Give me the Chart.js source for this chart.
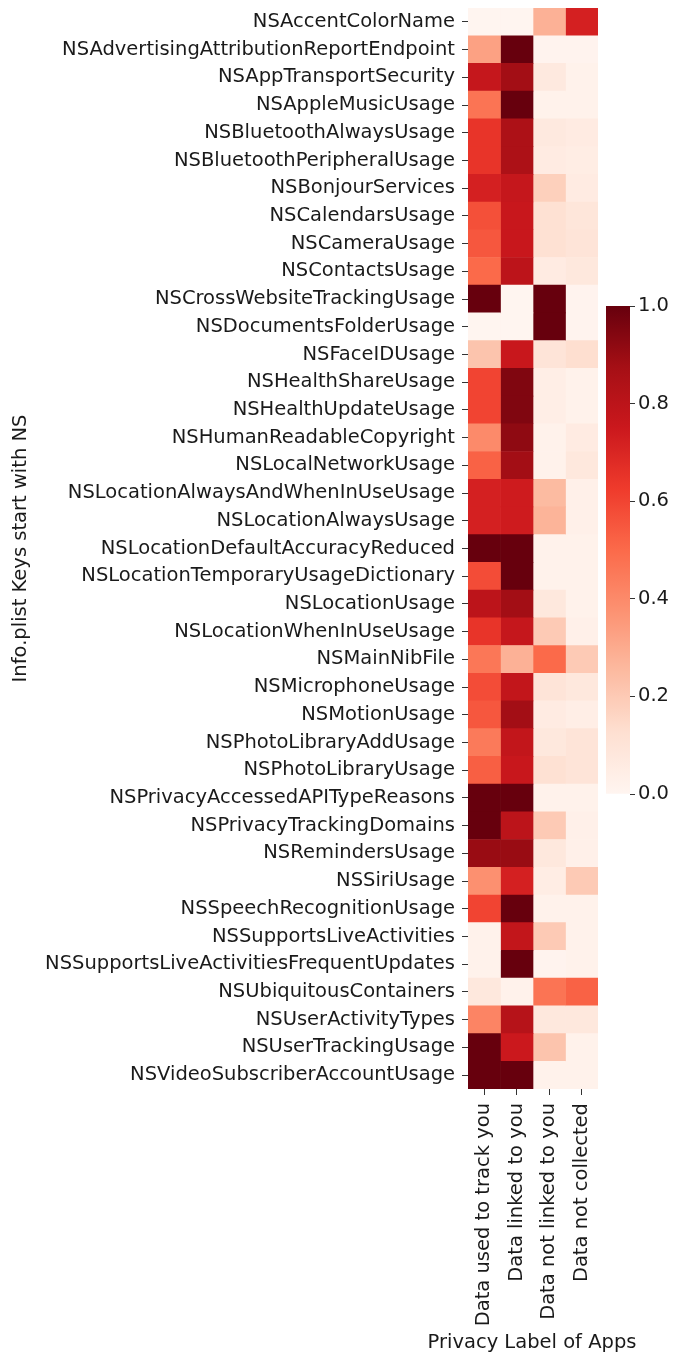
<!DOCTYPE html>
<html>
<head>
<meta charset="utf-8">
<script src="https://cdn.jsdelivr.net/npm/chart.js@4.4.1/dist/chart.umd.min.js"></script>
<style>
  html, body { margin: 0; padding: 0; background: #fff; overflow: hidden; }
  #wrap { position: relative; width: 678px; height: 1357px; overflow: hidden; }
  #main { position: absolute; left: 0; top: 0; }
  #cbar { position: absolute; left: 596px; top: 296px; }
</style>
</head>
<body>
<div id="wrap">
  <canvas id="main" width="1064" height="1357"></canvas>
  <canvas id="cbar" width="82" height="520"></canvas>
</div>
<script>
const rowLabels = [
  'NSAccentColorName','NSAdvertisingAttributionReportEndpoint','NSAppTransportSecurity','NSAppleMusicUsage',
  'NSBluetoothAlwaysUsage','NSBluetoothPeripheralUsage','NSBonjourServices','NSCalendarsUsage','NSCameraUsage',
  'NSContactsUsage','NSCrossWebsiteTrackingUsage','NSDocumentsFolderUsage','NSFaceIDUsage','NSHealthShareUsage',
  'NSHealthUpdateUsage','NSHumanReadableCopyright','NSLocalNetworkUsage','NSLocationAlwaysAndWhenInUseUsage',
  'NSLocationAlwaysUsage','NSLocationDefaultAccuracyReduced','NSLocationTemporaryUsageDictionary','NSLocationUsage',
  'NSLocationWhenInUseUsage','NSMainNibFile','NSMicrophoneUsage','NSMotionUsage','NSPhotoLibraryAddUsage',
  'NSPhotoLibraryUsage','NSPrivacyAccessedAPITypeReasons','NSPrivacyTrackingDomains','NSRemindersUsage','NSSiriUsage',
  'NSSpeechRecognitionUsage','NSSupportsLiveActivities','NSSupportsLiveActivitiesFrequentUpdates','NSUbiquitousContainers',
  'NSUserActivityTypes','NSUserTrackingUsage','NSVideoSubscriberAccountUsage'
];
const colLabels = ['Data used to track you','Data linked to you','Data not linked to you','Data not collected'];

const trackYou = [0.00,0.33,0.77,0.47,0.65,0.65,0.72,0.57,0.55,0.50,1.00,0.00,0.22,0.60,0.60,0.40,0.52,0.72,0.72,1.00,
                  0.58,0.80,0.65,0.46,0.58,0.55,0.45,0.53,1.00,1.00,0.90,0.38,0.60,0.02,0.02,0.08,0.42,1.00,1.00];
const linkedYou = [0.00,1.00,0.88,1.00,0.85,0.85,0.77,0.76,0.76,0.80,0.00,0.00,0.76,0.95,0.95,0.92,0.88,0.74,0.74,1.00,
                   1.00,0.88,0.77,0.28,0.78,0.88,0.78,0.76,1.00,0.80,0.90,0.72,1.00,0.78,1.00,0.02,0.82,0.75,1.00];
const notLinkedYou = [0.28,0.01,0.07,0.02,0.07,0.06,0.18,0.12,0.12,0.06,1.00,1.00,0.10,0.04,0.04,0.02,0.02,0.25,0.27,0.02,
                      0.02,0.08,0.20,0.50,0.10,0.06,0.08,0.12,0.02,0.20,0.08,0.05,0.02,0.20,0.01,0.47,0.08,0.22,0.02];
const notCollected = [0.72,0.01,0.02,0.02,0.06,0.05,0.06,0.09,0.10,0.08,0.01,0.01,0.13,0.02,0.02,0.06,0.08,0.03,0.03,0.02,
                      0.02,0.02,0.03,0.20,0.08,0.04,0.10,0.10,0.02,0.03,0.03,0.20,0.02,0.02,0.02,0.52,0.08,0.02,0.02];
const columns = [trackYou, linkedYou, notLinkedYou, notCollected];
const cbTicks = [0, 0.2, 0.4, 0.6, 0.8, 1.0];

// matplotlib "Reds" colormap anchors
const REDS = ['#fff5f0','#fee0d2','#fcbba1','#fc9272','#fb6a4a','#ef3b2c','#cb181d','#a50f15','#67000d'];
function hex(h){return [parseInt(h.slice(1,3),16),parseInt(h.slice(3,5),16),parseInt(h.slice(5,7),16)];}
function reds(v){
  v = Math.max(0, Math.min(1, v));
  const p = v * (REDS.length - 1);
  const i = Math.min(REDS.length - 2, Math.floor(p));
  const t = p - i;
  const a = hex(REDS[i]), b = hex(REDS[i+1]);
  const c = a.map((x,k)=>Math.round(x + (b[k]-x)*t));
  return `rgb(${c[0]},${c[1]},${c[2]})`;
}

const font = () => ({ family: 'DejaVu Sans', size: 19.5, lineHeight: 1.2, weight: 'normal' });
const TXT = '#1a1a1a';
const PLOT_BOTTOM = 1089;
const PLOT_RIGHT = 598;
const CANVAS_W = 1064;
const TITLE_BOX = 19.5 * 1.2 + 4 + 2;

const datasets = columns.map((vals, j) => ({
  label: colLabels[j],
  data: vals.map(() => 1),
  backgroundColor: vals.map(reds),
  borderWidth: 0,
  barPercentage: 1,
  categoryPercentage: 1,
  borderSkipped: false
}));

// main canvas is 1064 wide so that its centre (x=532) lies under the heatmap centre
new Chart(document.getElementById('main'), {
  type: 'bar',
  data: { labels: rowLabels, datasets },
  options: {
    indexAxis: 'y',
    responsive: false,
    animation: false,
    layout: { padding: { top: 8, right: 0, left: 0, bottom: 0 } },
    plugins: {
      legend: { display: false },
      tooltip: { enabled: false },
      title: { display: true, position: 'bottom', align: 'center', fullSize: true,
               text: 'Privacy Label of Apps', font: font(), color: TXT, padding: { top: 4, bottom: 2 } }
    },
    scales: {
      x: {
        type: 'linear', stacked: true, min: 0, max: 4,
        afterBuildTicks: (s) => { s.ticks = [0.5, 1.5, 2.5, 3.5].map(v => ({ value: v })); },
        afterFit: (s) => { s.height = 1357 - TITLE_BOX - PLOT_BOTTOM; s.paddingLeft = 0; s.paddingRight = 0; },
        ticks: {
          callback: (v) => colLabels[Math.floor(v)],
          minRotation: 90, maxRotation: 90, autoSkip: false,
          font: font(), color: TXT, padding: 8
        },
        grid: { display: true, drawOnChartArea: false, drawTicks: true, tickLength: 6, tickColor: '#333', tickWidth: 1 },
        border: { display: false }
      },
      y: {
        type: 'category', stacked: true,
        afterFit: (s) => { s.width = 468; s.paddingTop = 0; s.paddingBottom = 0; },
        ticks: { font: font(), color: TXT, padding: 7, autoSkip: false },
        grid: { display: true, drawOnChartArea: false, drawTicks: true, tickLength: 6, tickColor: '#333', tickWidth: 1, offset: false },
        border: { display: false },
        title: { display: true, text: 'Info.plist Keys start with NS', font: font(), color: TXT, padding: { top: 9, bottom: 0 } }
      },
      // empty spacer axis on the right, reserving the area where the colorbar sits
      spacer: {
        type: 'linear', position: 'right', display: true,
        afterFit: (s) => { s.width = CANVAS_W - PLOT_RIGHT; s.paddingTop = 0; s.paddingBottom = 0; },
        ticks: { display: false },
        grid: { display: false },
        border: { display: false }
      }
    }
  }
});

// Colorbar
new Chart(document.getElementById('cbar'), {
  type: 'bar',
  data: { labels: ['cb'], datasets: [{
    data: [[cbTicks[0], cbTicks[cbTicks.length - 1]]],
    barPercentage: 1, categoryPercentage: 1, borderWidth: 0,
    backgroundColor: (ctx) => {
      const ca = ctx.chart.chartArea;
      if (!ca) return '#fff';
      const g = ctx.chart.ctx.createLinearGradient(0, ca.bottom, 0, ca.top);
      for (let i = 0; i <= 40; i++) g.addColorStop(i / 40, reds(i / 40));
      return g;
    }
  }]},
  options: {
    responsive: false,
    animation: false,
    layout: { padding: { left: 10, top: 10, bottom: 22, right: 0 } },
    plugins: { legend: { display: false }, tooltip: { enabled: false } },
    scales: {
      x: { display: false },
      y: {
        position: 'right', min: 0, max: 1,
        afterFit: (s) => { s.width = 48; s.paddingTop = 0; s.paddingBottom = 0; },
        afterBuildTicks: (s) => { s.ticks = cbTicks.map(v => ({ value: v })); },
        ticks: { callback: (v) => v.toFixed(1), font: font(), color: TXT, padding: 3 },
        grid: { display: true, drawOnChartArea: false, drawTicks: true, tickLength: 5, tickColor: '#333' },
        border: { display: false }
      }
    }
  }
});
</script>
</body>
</html>
